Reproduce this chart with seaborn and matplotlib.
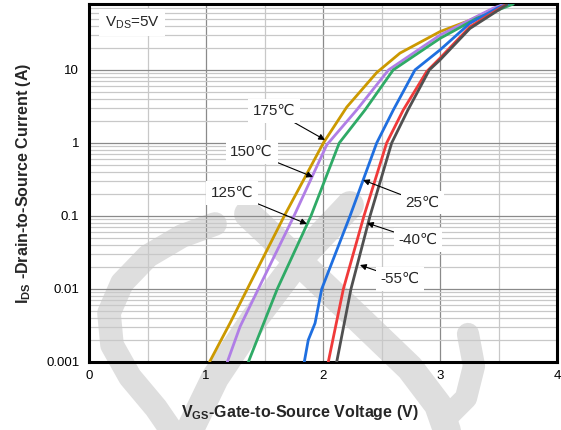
import numpy as np
import pandas as pd
import matplotlib
matplotlib.use('Agg')
import matplotlib.pyplot as plt
import seaborn as sns
from matplotlib.lines import Line2D
from matplotlib.ticker import FixedLocator, FixedFormatter, MultipleLocator, LogLocator, NullFormatter

# transfer curves, VDS = 5V
temps = ['175℃', '150℃', '125℃', '25℃', '-40℃', '-55℃']

vgs_175 = [1.03, 1.205, 1.353, 1.669, 2.003, 2.203, 2.459, 2.658, 3.0, 3.256, 3.485, 3.57]
ids_175 = [0.001, 0.0034, 0.01, 0.1, 1, 3.1, 9.2, 17, 33.5, 48, 72, 80]

vgs_150 = [1.182, 1.291, 1.447, 1.752, 2.032, 2.288, 2.56, 3.0, 3.453, 3.556]
ids_150 = [0.001, 0.00305, 0.01, 0.1, 0.94, 2.83, 10, 30, 70, 80]

vgs_125 = [1.362, 1.609, 1.897, 2.139, 2.359, 2.6, 3.0, 3.314, 3.627]
ids_125 = [0.001, 0.01, 0.1, 1, 2.83, 10, 27, 51, 80]

vgs_25 = [1.84, 1.874, 1.932, 1.989, 2.231, 2.459, 2.601, 2.786, 3.0, 3.256, 3.513, 3.58]
ids_25 = [0.001, 0.002, 0.0034, 0.01, 0.1, 1, 2.83, 10, 18.8, 43.6, 73.6, 80]

vgs_m40 = [2.045, 2.174, 2.35, 2.544, 2.686, 2.886, 3.0, 3.256, 3.57]
ids_m40 = [0.001, 0.01, 0.1, 1, 2.83, 9.5, 14.5, 39, 80]

vgs_m55 = [2.117, 2.239, 2.402, 2.587, 2.726, 2.909, 3.0, 3.256, 3.57]
ids_m55 = [0.001, 0.01, 0.1, 1, 2.83, 10, 13.7, 37, 78]

colors = ['#CC9900', '#B07EE6', '#2FAA66', '#1F6FE0', '#F03A3A', '#505050']

ytick_vals = [0.001, 0.01, 0.1, 1, 10]
ytick_labels = ['0.001', '0.01', '0.1', '1', '10']
xtick_vals = [0, 1, 2, 3, 4]

# label text position, arrow target
label_pos = {
    '175℃': ((1.58, 2.74), (2.017, 1.1)),
    '150℃': ((1.39, 0.75), (1.915, 0.342)),
    '125℃': ((1.22, 0.206), (1.863, 0.0776)),
    '25℃': ((2.85, 0.151), (2.342, 0.311)),
    '-40℃': ((2.81, 0.0469), (2.376, 0.0802)),
    '-55℃': ((2.66, 0.0137), (2.316, 0.0213)),
}

frames = []
for t, x, y in zip(temps,
                   [vgs_175, vgs_150, vgs_125, vgs_25, vgs_m40, vgs_m55],
                   [ids_175, ids_150, ids_125, ids_25, ids_m40, ids_m55]):
    frames.append(pd.DataFrame({'vgs': x, 'ids': y, 'temp': t}))
df = pd.concat(frames, ignore_index=True)

sns.set_style('white')
plt.rcParams['font.family'] = ['Liberation Sans', 'DejaVu Sans']
plt.rcParams['mathtext.fontset'] = 'custom'
plt.rcParams['mathtext.rm'] = 'Liberation Sans'
plt.rcParams['mathtext.bf'] = 'Liberation Sans:bold'

fig = plt.figure(figsize=(5.61, 4.30), dpi=100, facecolor='white')
W, H = 561, 430
ax = fig.add_axes([89 / W, 1 - 362 / H, 468 / W, 358 / H])
ax.patch.set_alpha(0)

# watermark (drawn behind the axes)
def px(pts):
    return [p[0] / W for p in pts], [1 - p[1] / H for p in pts]

wm = '#dedede'
loop = [(215, 224), (182, 236), (148, 256), (122, 283), (109, 313), (112, 345), (130, 377), (156, 408), (178, 440)]
band_b = [(248, 214), (300, 263), (360, 320), (410, 368), (438, 405), (452, 445)]
hook = [(446, 418), (466, 398), (474, 366), (468, 334)]
band_c = [(350, 205), (300, 258), (255, 318), (215, 378), (185, 440)]
for pts, lw in [(loop, 17), (band_b, 20), (hook, 16), (band_c, 20)]:
    xs, ys = px(pts)
    fig.add_artist(Line2D(xs, ys, transform=fig.transFigure, color=wm, lw=lw,
                          solid_capstyle='round', solid_joinstyle='round', zorder=-5))

sns.lineplot(data=df, x='vgs', y='ids', hue='temp', palette=colors, sort=False,
             estimator=None, legend=False, linewidth=2.0, ax=ax, zorder=3)

ax.set_yscale('log')
ax.set_xlim(0, 4)
ax.set_ylim(0.001, 80)
ax.xaxis.set_major_locator(FixedLocator(xtick_vals))
ax.xaxis.set_minor_locator(MultipleLocator(0.5))
ax.yaxis.set_major_locator(FixedLocator(ytick_vals))
ax.yaxis.set_major_formatter(FixedFormatter(ytick_labels))
ax.yaxis.set_minor_locator(LogLocator(base=10, subs=np.arange(2, 10)))
ax.yaxis.set_minor_formatter(NullFormatter())
ax.tick_params(which='both', length=0, labelsize=9.5, colors='black')
ax.tick_params(axis='y', pad=7)
ax.tick_params(axis='x', pad=6)
ax.grid(which='major', color='#8a8a8a', lw=0.9)
ax.grid(which='minor', color='#c8c8c8', lw=0.9)
ax.set_axisbelow(True)
for s in ax.spines.values():
    s.set_linewidth(2.2)
    s.set_color('black')
ax.set_xlabel('')
ax.set_ylabel('')

box = dict(boxstyle='square,pad=0.3', fc='white', ec='none')
for t in temps:
    (tx, ty), (hx, hy) = label_pos[t]
    ax.annotate(t, xy=(hx, hy), xytext=(tx, ty), ha='center', va='center',
                fontsize=11, bbox=box, zorder=5,
                arrowprops=dict(arrowstyle='-|>', color='black', lw=0.8,
                                mutation_scale=9, shrinkA=0, shrinkB=0))

ax.text(0.37, 45, r'V$_{\mathrm{DS}}$=5V', ha='center', va='center', fontsize=11,
        bbox=dict(boxstyle='square,pad=0.35', fc='white', ec='none'), zorder=5)

fig.text(300 / W, 1 - 413 / H, r'$\mathbf{V_{GS}}$-Gate-to-Source Voltage (V)',
         ha='center', va='center', fontsize=11.5, fontweight='bold')
fig.text(24 / W, 1 - 183 / H, r'$\mathbf{I_{DS}}$ -Drain-to-Source Current (A)',
         ha='center', va='center', fontsize=11.5, fontweight='bold', rotation=90)

fig.savefig('out.png', dpi=100, facecolor='white')
